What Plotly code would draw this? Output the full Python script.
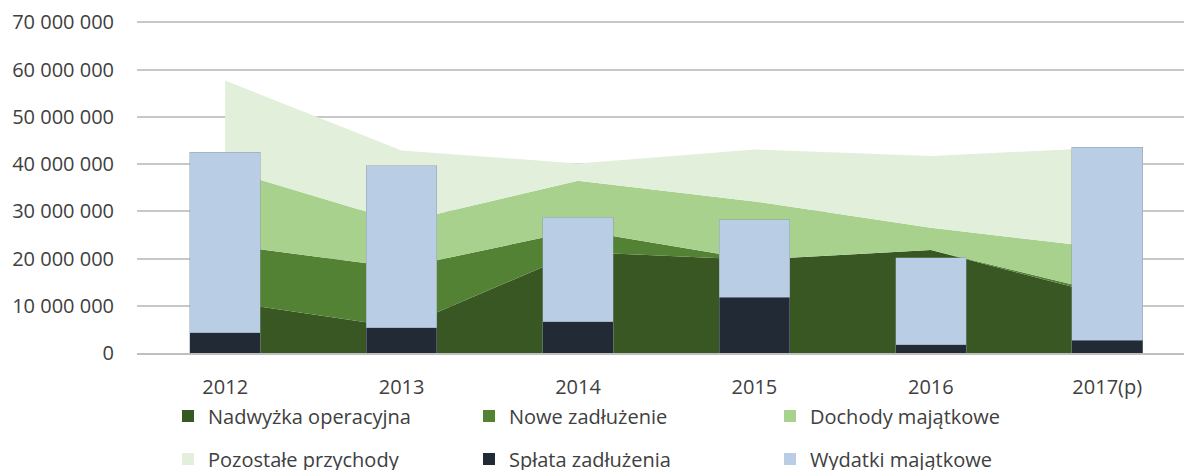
import plotly.graph_objects as go

years = ["2012", "2013", "2014", "2015", "2016", "2017(p)"]
nadwyzka = [10_900_000, 5_400_000, 21_400_000, 19_750_000, 21_800_000, 12_100_000]
nowe = [12_000_000, 12_650_000, 4_600_000, 0, 0, 600_000]
dochody = [16_000_000, 9_650_000, 10_450_000, 12_350_000, 4_700_000, 9_500_000]
pozostale = [18_800_000, 15_200_000, 3_650_000, 11_000_000, 15_200_000, 21_300_000]
splata = [4_300_000, 5_350_000, 6_600_000, 11_800_000, 1_750_000, 2_750_000]
wydatki = [38_200_000, 34_300_000, 22_100_000, 16_400_000, 18_400_000, 40_850_000]

area_series = [
    ("Nadwyżka operacyjna", nadwyzka, "#385723"),
    ("Nowe zadłużenie", nowe, "#548235"),
    ("Dochody majątkowe", dochody, "#A9D18E"),
    ("Pozostałe przychody", pozostale, "#E2EFDA"),
]
bar_series = [
    ("Spłata zadłużenia", splata, "#222A35"),
    ("Wydatki majątkowe", wydatki, "#B9CDE5"),
]

xs = list(range(len(years)))
FONT = "Open Sans, Segoe UI, sans-serif"
TXT = "#404040"

fig = go.Figure()
for name, vals, col in area_series:
    fig.add_trace(go.Scatter(
        x=xs, y=vals, name=name, stackgroup="inc", mode="lines",
        line=dict(width=0, color=col), fillcolor=col, showlegend=False,
        hoverinfo="skip"))

for name, vals, col in bar_series:
    fig.add_trace(go.Bar(
        x=xs, y=vals, name=name, width=0.4,
        marker=dict(color=col, line=dict(color="rgba(140,150,165,0.55)", width=0.8)),
        xaxis="x2", yaxis="y2", showlegend=False))

legend_items = [
    ("Nadwyżka operacyjna", "#385723", "legend"),
    ("Nowe zadłużenie", "#548235", "legend"),
    ("Dochody majątkowe", "#A9D18E", "legend"),
    ("Pozostałe przychody", "#E2EFDA", "legend2"),
    ("Spłata zadłużenia", "#222A35", "legend2"),
    ("Wydatki majątkowe", "#B9CDE5", "legend2"),
]
for name, col, lg in legend_items:
    fig.add_trace(go.Scatter(
        x=[None], y=[None], name=name, mode="markers",
        marker=dict(symbol="square", size=12, color=col),
        xaxis="x2", yaxis="y2", legend=lg, showlegend=True))

xr = [-0.5, 5.435]
yr = [0, 70_300_000]
leg_common = dict(orientation="h", xref="container", yref="container",
                  entrywidth=256, entrywidthmode="pixels", traceorder="normal",
                  font=dict(family=FONT, size=20, color=TXT), bgcolor="rgba(0,0,0,0)",
                  itemwidth=30, yanchor="middle", xanchor="left")

fig.update_layout(
    width=1184, height=470,
    margin=dict(l=137, r=0, t=21, b=117, autoexpand=False),
    paper_bgcolor="white", plot_bgcolor="white",
    separators=", ",
    barmode="stack",
    font=dict(family=FONT, size=20, color=TXT),
    xaxis=dict(range=xr, tickvals=xs, ticktext=years, showgrid=False, zeroline=False,
               showline=True, linecolor="#BFBFBF", linewidth=1.5, ticks="",
               ticklabelstandoff=15, tickfont=dict(family=FONT, size=20, color=TXT)),
    yaxis=dict(range=yr, tickvals=list(range(0, 70_000_001, 10_000_000)), tickformat=",d",
               showgrid=True, gridcolor="#C8C8C8", gridwidth=1.5, zeroline=False,
               showline=False, ticks="", ticklabelstandoff=22,
               tickfont=dict(family=FONT, size=20, color=TXT)),
    xaxis2=dict(range=xr, overlaying="x", visible=False),
    yaxis2=dict(range=yr, overlaying="y", visible=False),
    legend=dict(x=168 / 1184, y=(470 - 416) / 470, **leg_common),
    legend2=dict(x=168 / 1184, y=(470 - 459) / 470, **leg_common),
)

fig.write_html("out.html", config={"displayModeBar": False},
               post_script="document.body.style.margin='0';document.body.style.padding='0';")
